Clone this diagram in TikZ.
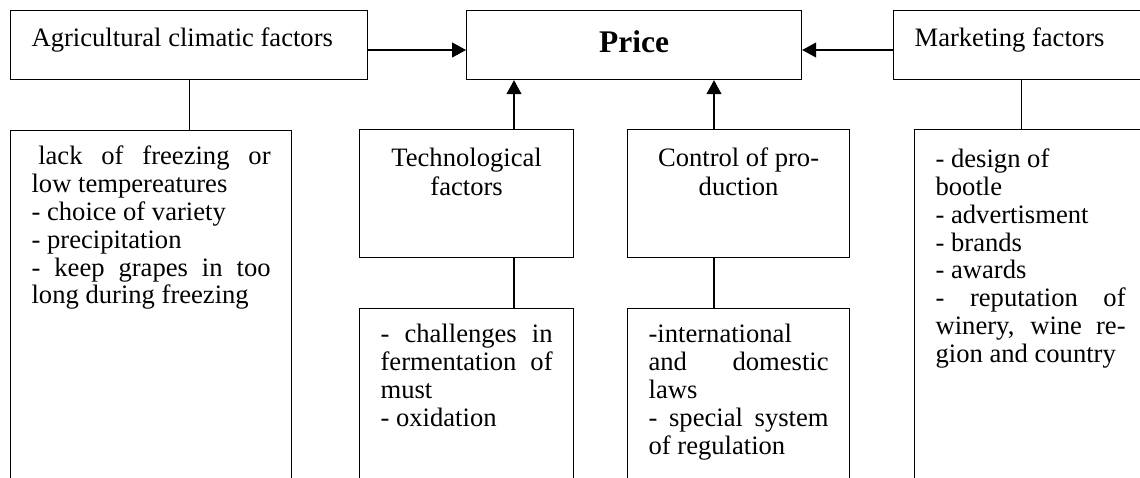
\documentclass[tikz,border=0pt]{standalone}
\usepackage{fontspec}
\setmainfont{Liberation Serif}
\usetikzlibrary{arrows.meta,positioning}

\begin{document}
\begin{tikzpicture}[x=0.5pt,y=-0.5pt,>={Triangle[length=7pt,width=7.5pt]},
                    line width=0.6pt]
  \tikzstyle{factor}=[draw,anchor=north west,inner xsep=10.5pt,inner ysep=0pt,
                      text height=18pt,text depth=16.5pt,align=flush left,
                      font=\fontsize{13.3}{13.9}\selectfont]
  \tikzstyle{group}=[factor,align=flush center,text height=18.5pt,text depth=45.5pt,
                     font=\fontsize{13.3}{14.5}\selectfont]
  \tikzstyle{list}=[factor,align=justify,text height=17pt,text depth=200pt]

  \useasboundingbox (0,0) rectangle (1140,477);
  \clip (0,0) rectangle (1140,477);

  % top row
  \node[factor,text width=157.5pt] (agri) at (10,10) {Agricultural climatic factors};
  \node[factor,text width=146.5pt,align=flush center,text height=21pt,text depth=13.5pt,
        font=\fontsize{15.75}{18}\selectfont\bfseries] (price) at (466,10) {Price};
  \node[factor,text width=107pt] (mkt) at (893,10) {Marketing factors};

  % second row
  \node[list,text width=119.5pt] (lack) [below=25pt of agri.south west,anchor=north west]
    {\hspace*{0.25em}lack of freezing or\linebreak low tempereatures\\
     - choice of variety\\
     - precipitation\\
     - keep grapes in too\linebreak long during freezing};
  \node[group,text width=86pt] (tech) at (359,129) {Technological\\factors};
  \node[group,text width=90pt] (ctrl) at (627,129) {Control of pro-\\duction};
  \node[list,text width=95pt,text height=19pt] (mlist) at (914,129)
    {- design of\\bootle\\- advertisment\\- brands\\- awards\\
     - reputation of\linebreak winery, wine re-\linebreak gion and country};

  % third row
  \node[list,text width=86pt] (techlow) [below=25pt of tech.south west,anchor=north west]
    {- challenges in\linebreak fermentation of\linebreak must\\- oxidation};
  \node[list,text width=90pt] (ctrllow) [below=25pt of ctrl.south west,anchor=north west]
    {-international\\and domestic\linebreak laws\\
     - special system\linebreak of regulation};

  \coordinate (ay) at (0,50);
  \coordinate (tx) at (514,0);
  \coordinate (cx) at (714,0);

  \path[->] (agri.east |- ay) edge (price.west |- ay)
            (mkt.west |- ay)  edge (price.east |- ay)
            (tech.north -| tx) edge (price.south -| tx)
            (ctrl.north -| cx) edge (price.south -| cx);
  \path (agri.south) edge (agri.south |- lack.north)
        (mkt.south)  edge (mkt.south |- mlist.north)
        (tech.south -| tx) edge (techlow.north -| tx)
        (ctrl.south -| cx) edge (ctrllow.north -| cx);
\end{tikzpicture}
\end{document}
